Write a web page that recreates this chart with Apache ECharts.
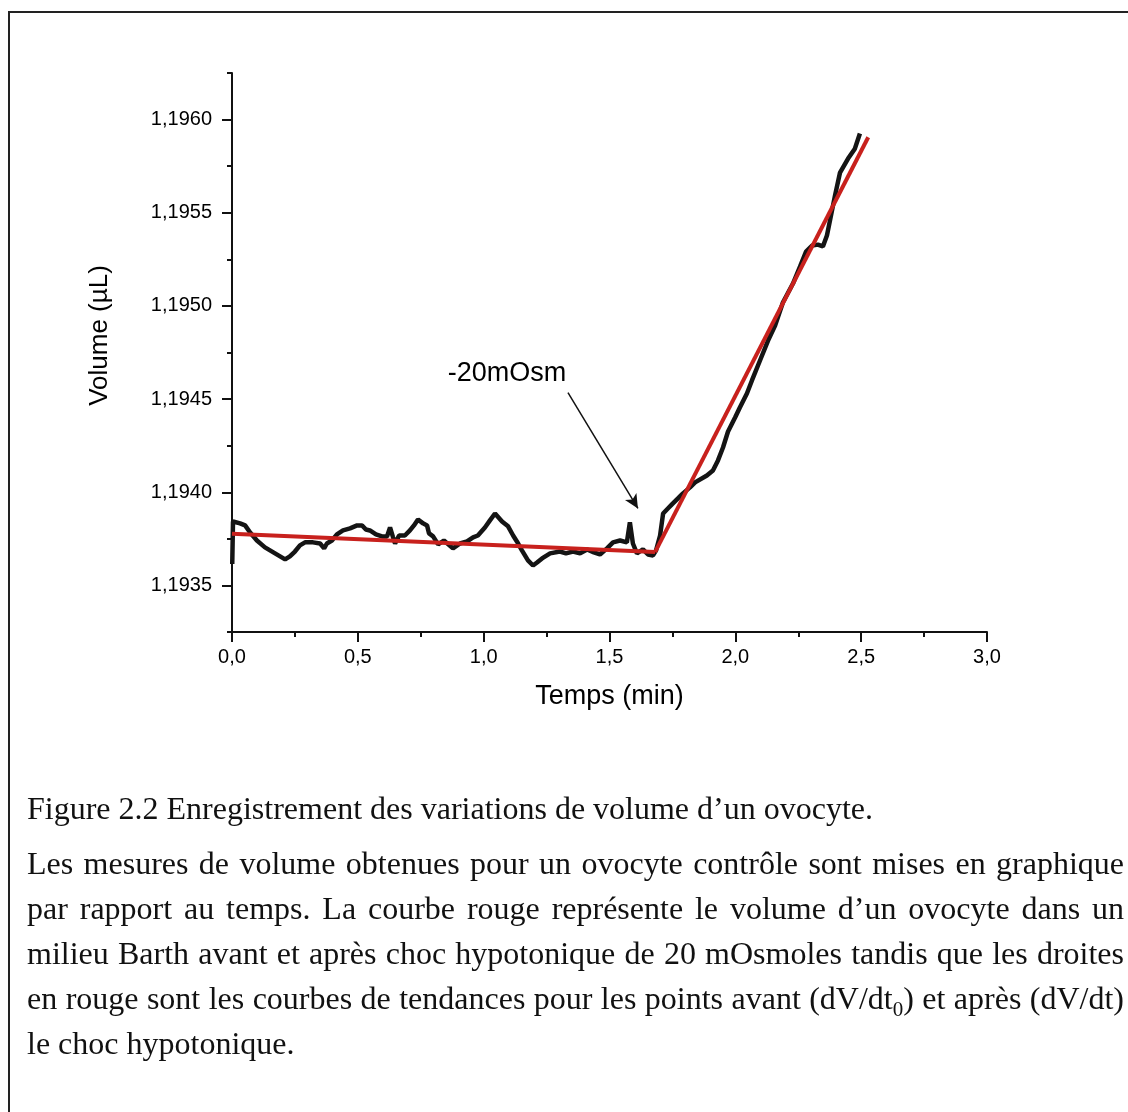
<!DOCTYPE html>
<html>
<head>
<meta charset="utf-8">
<script src="https://cdn.jsdelivr.net/npm/echarts@6/dist/echarts.min.js"></script>
<style>
	body { margin: 0; background: #fff; }
	.frame {
		position: absolute; left: 8px; top: 11px; width: 1120px; height: 1101px;
		border-top: 2px solid #222; border-left: 2px solid #222;
	}
	.chart { position: absolute; left: 0; top: 0; width: 1128px; height: 1112px; }
	.caption {
		position: absolute; left: 27px; top: 786px; width: 1097px;
		font-family: 'Liberation Serif', serif; font-size: 32px; line-height: 45px; color: #111;
	}
	.caption div { white-space: nowrap; }
	.caption .j { text-align: justify; text-align-last: justify; white-space: normal; }
	.caption .first { margin-bottom: 10px; }
	sub { font-size: 21px; line-height: 0; }
</style>
</head>
<body>
<div class="frame"></div>
<div class="chart" id="chart"></div>
<div class="caption">
	<div class="first">Figure 2.2 Enregistrement des variations de volume d’un ovocyte.</div>
	<div class="j">Les mesures de volume obtenues pour un ovocyte contrôle sont mises en graphique</div>
	<div class="j">par rapport au temps. La courbe rouge représente le volume d’un ovocyte dans un</div>
	<div class="j">milieu Barth avant et après choc hypotonique de 20 mOsmoles tandis que les droites</div>
	<div class="j">en rouge sont les courbes de tendances pour les points avant (dV/dt<sub>0</sub>) et après (dV/dt)</div>
	<div>le choc hypotonique.</div>
</div>
<script>
	var timeMin = [0.001, 0.004, 0.032, 0.052, 0.072, 0.099, 0.131, 0.171, 0.211, 0.230, 0.250,
		0.270, 0.290, 0.322, 0.350, 0.366, 0.377, 0.397, 0.417, 0.441, 0.469,
		0.497, 0.517, 0.532, 0.548, 0.572, 0.596, 0.616, 0.628, 0.640, 0.648,
		0.664, 0.687, 0.707, 0.723, 0.739, 0.759, 0.775, 0.783, 0.799, 0.819,
		0.842, 0.878, 0.906, 0.934, 0.958, 0.977, 1.005, 1.025, 1.045, 1.073,
		1.097, 1.117, 1.132, 1.152, 1.176, 1.196, 1.212, 1.232, 1.264, 1.303,
		1.327, 1.355, 1.383, 1.411, 1.438, 1.462, 1.490, 1.514, 1.542, 1.569,
		1.581, 1.593, 1.609, 1.633, 1.653, 1.673, 1.685, 1.701, 1.713, 1.732,
		1.748, 1.772, 1.792, 1.820, 1.840, 1.887, 1.911, 1.931, 1.951, 1.971,
		1.999, 2.018, 2.046, 2.066, 2.098, 2.130, 2.158, 2.189, 2.229, 2.257,
		2.281, 2.305, 2.328, 2.348, 2.364, 2.376, 2.396, 2.416, 2.448, 2.475, 2.495];
	var volumeUl = [1.193615, 1.193843, 1.193833, 1.193822, 1.193784, 1.193741, 1.193704, 1.193672, 1.193640, 1.193656, 1.193682,
		1.193715, 1.193731, 1.193731, 1.193725, 1.193699, 1.193725, 1.193741, 1.193774, 1.193795, 1.193806,
		1.193822, 1.193822, 1.193800, 1.193795, 1.193774, 1.193763, 1.193763, 1.193811, 1.193758, 1.193725,
		1.193768, 1.193768, 1.193795, 1.193822, 1.193854, 1.193833, 1.193822, 1.193779, 1.193763, 1.193720,
		1.193741, 1.193699, 1.193725, 1.193736, 1.193758, 1.193768, 1.193811, 1.193849, 1.193886, 1.193843,
		1.193817, 1.193768, 1.193736, 1.193688, 1.193634, 1.193607, 1.193623, 1.193645, 1.193672, 1.193682,
		1.193672, 1.193682, 1.193672, 1.193693, 1.193677, 1.193666, 1.193699, 1.193731, 1.193741, 1.193731,
		1.193838, 1.193725, 1.193672, 1.193693, 1.193666, 1.193661, 1.193688, 1.193768, 1.193886, 1.193913,
		1.193935, 1.193967, 1.193994, 1.194026, 1.194053, 1.194090, 1.194117, 1.194171, 1.194240, 1.194326,
		1.194401, 1.194455, 1.194530, 1.194600, 1.194707, 1.194814, 1.194895, 1.195018, 1.195120, 1.195211,
		1.195292, 1.195324, 1.195329, 1.195319, 1.195378, 1.195458, 1.195592, 1.195716, 1.195791, 1.195844, 1.195925];

	// droites de tendance avant / après le choc
	var fitBeforeTime = [0, 1.681];
	var fitBeforeVol = [1.193777, 1.193679];
	var fitAfterTime = [1.681, 2.528];
	var fitAfterVol = [1.193679, 1.195905];

	// annotation
	var shockLabel = '-20mOsm';
	var shockLabelPos = [1.093, 1.194637];
	var arrowStart = [1.335, 1.194535];
	var arrowEnd = [1.613, 1.193913];

	// graduations
	var yMajorTicks = [1.1935, 1.1940, 1.1945, 1.1950, 1.1955, 1.1960];
	var yMinorTicks = [1.19325, 1.19375, 1.19425, 1.19475, 1.19525, 1.19575, 1.19625];

	var pairs = function(xs, ys) {
		return xs.map(function(x, i) { return [x, ys[i]]; });
	};

	var chart = echarts.init(document.getElementById('chart'));
	var textFont = 'Liberation Sans';
	var option = {
		animation: false,
		grid: { left: 232, top: 73, width: 755, height: 559 },
		xAxis: {
			type: 'value',
			min: 0,
			max: 3,
			interval: 0.5,
			name: 'Temps (min)',
			nameLocation: 'middle',
			nameGap: 51,
			nameTextStyle: { fontFamily: textFont, fontSize: 27, color: '#000' },
			axisLine: { lineStyle: { color: '#111', width: 2 } },
			axisTick: { length: 10, lineStyle: { color: '#111', width: 2 } },
			minorTick: { show: true, splitNumber: 2, length: 5, lineStyle: { color: '#111', width: 2 } },
			splitLine: { show: false },
			axisLabel: {
				margin: 15,
				fontFamily: textFont,
				fontSize: 20,
				color: '#000',
				formatter: function(v) { return v.toFixed(1).replace('.', ','); }
			}
		},
		yAxis: [{
			type: 'value',
			min: 1.19325,
			max: 1.19625,
			name: 'Volume (µL)',
			nameLocation: 'middle',
			nameGap: 119,
			nameTextStyle: { fontFamily: textFont, fontSize: 26, color: '#000', padding: [0, 0, 0, 34] },
			axisLine: { show: true, lineStyle: { color: '#111', width: 2 } },
			axisTick: { show: true, customValues: yMajorTicks, length: 10, lineStyle: { color: '#111', width: 2 } },
			splitLine: { show: false },
			axisLabel: {
				customValues: yMajorTicks,
				margin: 20,
				fontFamily: textFont,
				fontSize: 20,
				color: '#000',
				formatter: function(v) { return v.toFixed(4).replace('.', ','); }
			}
		}, {
			type: 'value',
			min: 1.19325,
			max: 1.19625,
			position: 'left',
			axisLine: { show: false },
			axisTick: { show: true, customValues: yMinorTicks, length: 5, lineStyle: { color: '#111', width: 2 } },
			axisLabel: { show: false },
			splitLine: { show: false }
		}],
		series: [{
			name: 'Volume',
			type: 'line',
			data: pairs(timeMin, volumeUl),
			showSymbol: false,
			lineStyle: { color: '#141414', width: 4.5 },
			z: 2
		}, {
			name: 'Tendance avant',
			type: 'line',
			data: pairs(fitBeforeTime, fitBeforeVol),
			showSymbol: false,
			lineStyle: { color: '#c8211d', width: 4 },
			z: 3
		}, {
			name: 'Tendance après',
			type: 'line',
			data: pairs(fitAfterTime, fitAfterVol),
			showSymbol: false,
			lineStyle: { color: '#c8211d', width: 4 },
			z: 3,
			markLine: {
				silent: true,
				symbol: ['none', 'arrow'],
				symbolSize: [10, 14],
				label: { show: false },
				lineStyle: { color: '#111', width: 1.5, type: 'solid' },
				data: [[{ coord: arrowStart }, { coord: arrowEnd }]]
			}
		}, {
			name: 'Annotation',
			type: 'scatter',
			data: [shockLabelPos],
			symbolSize: 0,
			itemStyle: { opacity: 1 },
			label: {
				show: true,
				position: 'inside',
				formatter: shockLabel,
				fontFamily: textFont,
				fontSize: 27,
				color: '#000'
			}
		}]
	};
	chart.setOption(option);
</script>
</body>
</html>
